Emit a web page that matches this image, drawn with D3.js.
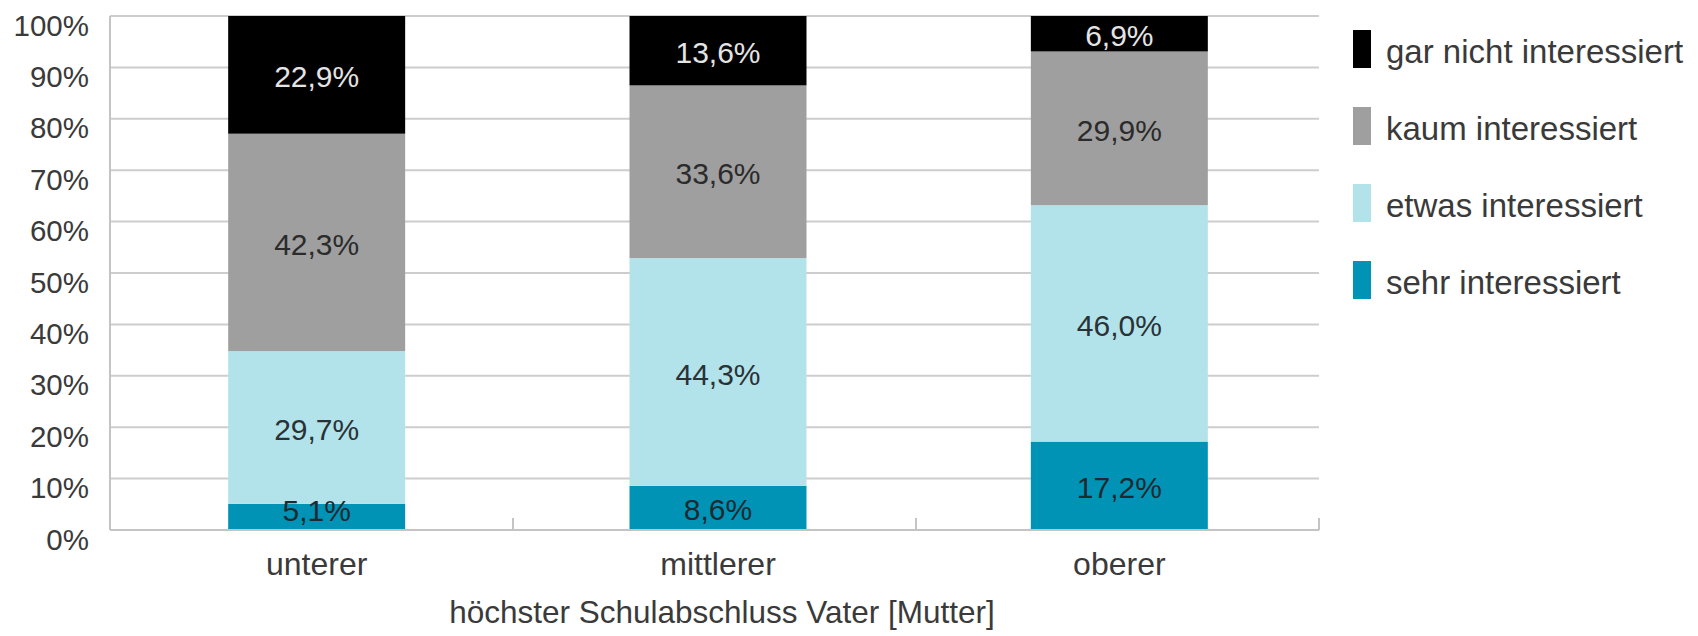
<!DOCTYPE html>
<html>
<head>
<meta charset="utf-8">
<script src="https://cdn.jsdelivr.net/npm/d3@7"></script>
<style>
  html, body { margin: 0; padding: 0; background: #ffffff; }
  svg { display: block; }
  text { font-family: "Liberation Sans", Arial, sans-serif; }
</style>
</head>
<body>
<svg id="chart" width="1698" height="636"></svg>
<script>
// ---- data ----
const categories = ["unterer", "mittlerer", "oberer"];
const seriesNames = ["sehr interessiert", "etwas interessiert", "kaum interessiert", "gar nicht interessiert"];
const sehr     = [5.1, 8.6, 17.2];
const etwas    = [29.7, 44.3, 46.0];
const kaum     = [42.3, 33.6, 29.9];
const garNicht = [22.9, 13.6, 6.9];
const yTicks = [0, 10, 20, 30, 40, 50, 60, 70, 80, 90, 100];
const xAxisTitle = "höchster Schulabschluss Vater [Mutter]";
const colors = ["#0093b6", "#b3e3ea", "#9f9f9f", "#000000"];
const labelColors = ["#1f2a30", "#2a3236", "#2b2b2b", "#e4e4e4"];

const seriesValues = [sehr, etwas, kaum, garNicht];
const rows = categories.map((c, i) => {
  const r = { cat: c };
  seriesNames.forEach((s, k) => r[s] = seriesValues[k][i]);
  return r;
});

// ---- layout ----
const svg = d3.select("#chart");
const plot = { left: 110, right: 1319, top: 16, bottom: 530 };

const y = d3.scaleLinear().domain([0, 100]).range([plot.bottom, plot.top]).clamp(true);
const xAxisScale = d3.scaleBand().domain(categories).range([plot.left, plot.right]).padding(0);
const xBar = d3.scaleBand().domain(categories).range([plot.left + 6, plot.right + 1])
  .paddingInner(0.559).paddingOuter(0.2795);

// gridlines
svg.append("g").selectAll("line").data(yTicks.filter(t => t > 0)).join("line")
  .attr("x1", plot.left).attr("x2", plot.right)
  .attr("y1", d => y(d)).attr("y2", d => y(d))
  .attr("stroke", "#cdcdcd").attr("stroke-width", 2);

// y tick labels
svg.append("g").selectAll("text").data(yTicks).join("text")
  .attr("x", 89).attr("y", d => y(d) + 19.5)
  .attr("text-anchor", "end")
  .attr("font-size", 29.5).attr("fill", "#3a3a3a")
  .text(d => d + "%");

// stacked bars
const stack = d3.stack().keys(seriesNames);
const stacked = stack(rows);

const layers = svg.append("g").selectAll("g").data(stacked).join("g")
  .attr("fill", (d, i) => colors[i]);
layers.selectAll("rect").data(d => d).join("rect")
  .attr("x", d => xBar(d.data.cat))
  .attr("width", xBar.bandwidth())
  .attr("y", d => y(d[1]))
  .attr("height", d => y(d[0]) - y(d[1]));

// axes lines
svg.append("line").attr("x1", plot.left).attr("x2", plot.left)
  .attr("y1", plot.top).attr("y2", plot.bottom)
  .attr("stroke", "#c4c4c4").attr("stroke-width", 2);
svg.append("line").attr("x1", plot.left).attr("x2", plot.right)
  .attr("y1", plot.bottom).attr("y2", plot.bottom)
  .attr("stroke", "#c4c4c4").attr("stroke-width", 2);

// category tick marks (inside)
const tickXs = categories.map(c => xAxisScale(c) + xAxisScale.bandwidth());
svg.append("g").selectAll("line").data(tickXs).join("line")
  .attr("x1", d => d).attr("x2", d => d)
  .attr("y1", plot.bottom).attr("y2", plot.bottom - 12)
  .attr("stroke", "#c4c4c4").attr("stroke-width", 2);

// bar labels
const fmt = v => d3.format(".1f")(v).replace(".", ",") + "%";
stacked.forEach((layer, k) => {
  svg.append("g").selectAll("text").data(layer).join("text")
    .attr("x", d => xBar(d.data.cat) + xBar.bandwidth() / 2)
    .attr("y", d => Math.min((y(d[0]) + y(d[1])) / 2, plot.bottom - 22))
    .attr("dy", "0.42em")
    .attr("text-anchor", "middle")
    .attr("font-size", 30)
    .attr("fill", labelColors[k])
    .text(d => fmt(d.data[layer.key]));
});

// category labels
svg.append("g").selectAll("text").data(categories).join("text")
  .attr("x", d => xBar(d) + xBar.bandwidth() / 2)
  .attr("y", 575)
  .attr("text-anchor", "middle")
  .attr("font-size", 32).attr("fill", "#3a3a3a")
  .text(d => d);

// axis title
svg.append("text")
  .attr("x", xBar(categories[1]) + xBar.bandwidth() / 2 + 4)
  .attr("y", 623)
  .attr("text-anchor", "middle")
  .attr("font-size", 31.5).attr("fill", "#3a3a3a")
  .text(xAxisTitle);

// legend
const legendOrder = seriesNames.slice().reverse();
const legend = svg.append("g").selectAll("g").data(legendOrder).join("g")
  .attr("transform", (d, i) => `translate(1353, ${30 + i * 77})`);
legend.append("rect")
  .attr("width", 18).attr("height", 38)
  .attr("fill", d => colors[seriesNames.indexOf(d)]);
legend.append("text")
  .attr("x", 33).attr("y", 33)
  .attr("font-size", 33).attr("fill", "#3a3a3a")
  .text(d => d);
</script>
</body>
</html>
